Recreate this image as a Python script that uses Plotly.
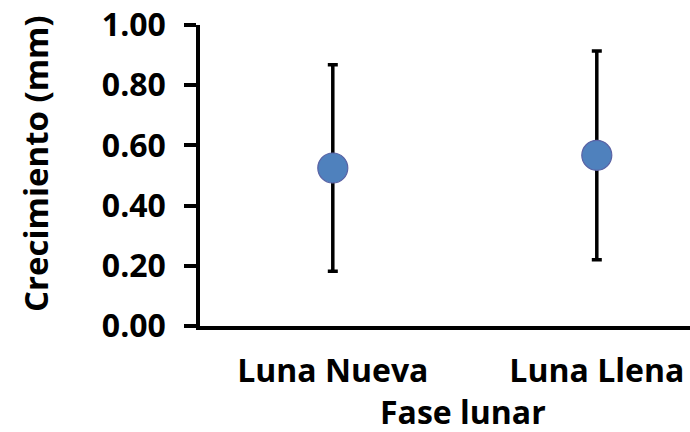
import plotly.graph_objects as go

categories = ["Luna Nueva", "Luna Llena"]
means = [0.525, 0.567]
errors = [0.343, 0.347]
y_ticks = [0.0, 0.2, 0.4, 0.6, 0.8, 1.0]
y_tick_labels = ["0.00", "0.20", "0.40", "0.60", "0.80", "1.00"]

FONT = "Open Sans"
FS = 32

fig = go.Figure()
fig.add_trace(go.Scatter(
    x=[0, 1], y=means,
    mode="markers",
    marker=dict(size=30, color="#4F81BD", line=dict(color="#5A62A4", width=1.2)),
    error_y=dict(type="data", array=errors, visible=True, color="black", thickness=3.5, width=5),
    showlegend=False,
))

fig.update_layout(
    width=690, height=432,
    margin=dict(l=200, r=0, t=25, b=106),
    paper_bgcolor="white", plot_bgcolor="white",
    xaxis=dict(
        range=[-0.503, 1.353], tickmode="array", tickvals=[0, 1], ticktext=categories,
        showgrid=False, zeroline=False, showline=True, linecolor="black", linewidth=3.5,
        ticks="", tickfont=dict(family=FONT, size=FS, color="black", weight="bold"),
        ticklabelstandoff=14,
    ),
    yaxis=dict(
        range=[0, 1], tickmode="array", tickvals=y_ticks, ticktext=y_tick_labels,
        showgrid=False, zeroline=False, showline=True, linecolor="black", linewidth=3.5,
        ticks="outside", ticklen=12, tickwidth=3.5, tickcolor="black",
        tickfont=dict(family=FONT, size=FS, color="black", weight="bold"),
        ticklabelstandoff=12,
    ),
    annotations=[
        dict(text="Fase lunar", xref="paper", yref="paper", x=(463 - 200) / 490, y=-(412 - 326) / 301,
             showarrow=False, font=dict(family=FONT, size=FS, color="black", weight="bold"),
             xanchor="center", yanchor="middle"),
        dict(text="Crecimiento (mm)", xref="paper", yref="paper", x=-(200 - 35) / 490, y=(326 - 164) / 301,
             showarrow=False, textangle=-90, font=dict(family=FONT, size=FS + 1, color="black", weight="bold"),
             xanchor="center", yanchor="middle"),
    ],
)

fig.write_html("out.html")
